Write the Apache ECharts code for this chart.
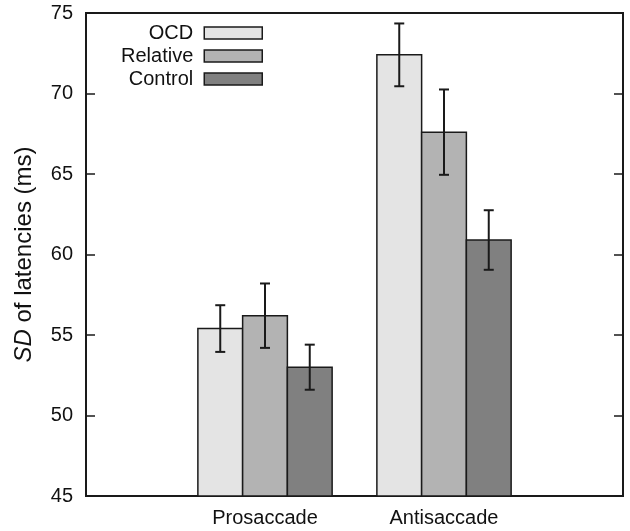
<!DOCTYPE html>
<html>
<head lang="en">
<meta charset="UTF-8">
<title></title>
<style type="text/css">
    body { margin: 0; background: #fff; }
    #mychart { width: 630px; height: 531px; }
</style>
</head>
<body>
<div id="mychart"></div>
<script src="https://cdn.jsdelivr.net/npm/echarts@6/dist/echarts.min.js"></script>
<script>
    // data
    var categories = ['Prosaccade', 'Antisaccade'];
    var groups = ['OCD', 'Relative', 'Control'];
    var ocdMean = [55.4, 72.4];
    var ocdErr = [1.45, 1.95];
    var relativeMean = [56.2, 67.6];
    var relativeErr = [2.0, 2.65];
    var controlMean = [53.0, 60.9];
    var controlErr = [1.4, 1.85];
    var yTicks = [45, 50, 55, 60, 65, 70, 75];

    var means = [ocdMean, relativeMean, controlMean];
    var errs = [ocdErr, relativeErr, controlErr];
    var colors = ['#e4e4e4', '#b3b3b3', '#808080'];
    var barW = 0.25;
    var ink = '#1a1a1a';
    var font = 'Liberation Sans, Arial, sans-serif';

    function makeRender(k) {
        return function (params, api) {
            var x = api.value(0), y = api.value(1), e = api.value(2);
            var off = (k - 1) * barW;
            var p0 = api.coord([x + off - barW / 2, yTicks[0]]);
            var p1 = api.coord([x + off + barW / 2, y]);
            var top = api.coord([x + off, y + e]);
            var bot = api.coord([x + off, y - e]);
            var cap = 5;
            return {
                type: 'group',
                children: [
                    {type: 'rect', shape: {x: p0[0], y: p1[1], width: p1[0] - p0[0], height: p0[1] - p1[1]},
                        style: {fill: colors[k], stroke: ink, lineWidth: 1.5}},
                    {type: 'line', shape: {x1: top[0], y1: top[1], x2: bot[0], y2: bot[1]},
                        style: {stroke: ink, lineWidth: 2}},
                    {type: 'line', shape: {x1: top[0] - cap, y1: top[1], x2: top[0] + cap, y2: top[1]},
                        style: {stroke: ink, lineWidth: 2}},
                    {type: 'line', shape: {x1: bot[0] - cap, y1: bot[1], x2: bot[0] + cap, y2: bot[1]},
                        style: {stroke: ink, lineWidth: 2}}
                ]
            };
        };
    }

    var series = groups.map(function (g, k) {
        return {
            name: g,
            type: 'custom',
            renderItem: makeRender(k),
            itemStyle: {color: colors[k], borderColor: ink, borderWidth: 1.5},
            encode: {x: 0, y: 1},
            data: categories.map(function (c, i) {
                return [i + 1, means[k][i], errs[k][i]];
            })
        };
    });

    var yAxisBase = {
        type: 'value',
        min: yTicks[0],
        max: yTicks[yTicks.length - 1],
        interval: 5,
        splitLine: {show: false},
        axisLine: {show: false},
        axisTick: {show: true, inside: true, length: 9, lineStyle: {color: ink, width: 1.5}}
    };

    var option = {
        animation: false,
        backgroundColor: '#fff',
        textStyle: {fontFamily: font},
        grid: {left: 86, right: 7, top: 13, bottom: 35, show: true, borderColor: ink, borderWidth: 2},
        legend: {
            orient: 'vertical',
            align: 'right',
            left: 121,
            top: 23,
            padding: 0,
            itemWidth: 58,
            itemHeight: 12,
            itemGap: 3,
            icon: 'rect',
            itemStyle: {borderColor: ink, borderWidth: 1.5},
            textStyle: {fontFamily: font, fontSize: 20, color: '#111', padding: [0, 6, 0, 0]},
            data: groups
        },
        xAxis: {
            type: 'value',
            min: 0,
            max: 3,
            interval: 1,
            splitLine: {show: false},
            axisLine: {show: false},
            axisTick: {show: false},
            axisLabel: {
                fontSize: 20, color: '#111', margin: 12, fontFamily: font,
                formatter: function (v) { return categories[v - 1] || ''; }
            }
        },
        yAxis: [
            Object.assign({}, yAxisBase, {
                position: 'left',
                name: '{i|SD} of latencies (ms)',
                nameLocation: 'middle',
                nameRotate: 90,
                nameGap: 50,
                nameTextStyle: {fontSize: 24, color: '#111', fontFamily: font,
                    rich: {i: {fontSize: 24, fontStyle: 'italic', color: '#111', fontFamily: font}}},
                axisLabel: {fontSize: 20, color: '#111', margin: 13, fontFamily: font}
            }),
            Object.assign({}, yAxisBase, {
                position: 'right',
                axisLabel: {show: false}
            })
        ],
        series: series
    };

    var mychart = echarts.init(document.getElementById('mychart'));
    mychart.setOption(option);
</script>
</body>
</html>
